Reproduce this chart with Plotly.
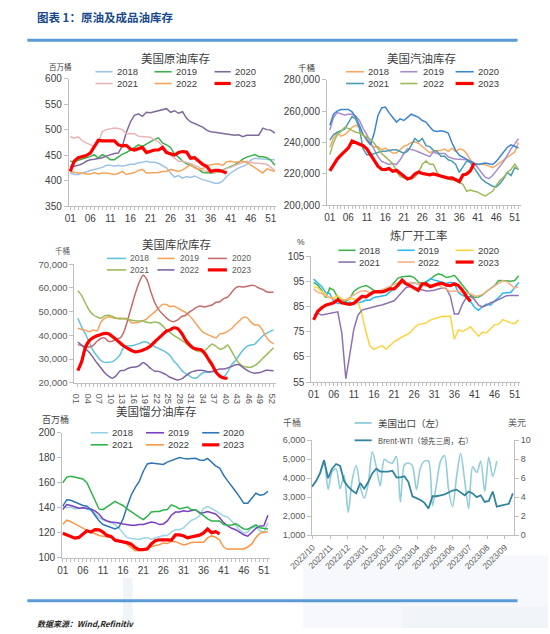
import plotly.graph_objects as go
import pandas as pd

W, H = 550, 634

weeks = list(range(1, 53))
year_names = ["2018", "2019", "2020", "2021", "2022", "2023"]

# ---------------- 美国原油库存 (百万桶) ----------------
crude_2018 = [415, 412, 412, 415, 418, 420, 422, 424, 426, 430,
              430, 428, 430, 428, 430, 432, 432, 435, 436, 438,
              436, 436, 434, 430, 425, 415, 407, 410, 405, 408,
              406, 409, 405, 402, 400, 397, 395, 395, 399, 408,
              415, 420, 425, 428, 432, 440, 444, 443, 442, 441,
              441, 441]
crude_2019 = [438, 437, 440, 443, 445, 447, 451, 444, 451, 447,
              441, 441, 446, 452, 455, 460, 465, 470, 467, 472,
              476, 481, 484, 474, 470, 465, 452, 446, 438, 433,
              430, 426, 422, 416, 415, 415, 416, 417, 421, 424,
              428, 431, 436, 442, 446, 449, 451, 447, 447, 445,
              440, 430]
crude_2020 = [428, 428, 430, 433, 438, 441, 442, 443, 445, 448,
              451, 453, 454, 468, 495, 515, 528, 531, 526, 534,
              533, 535, 538, 540, 541, 534, 537, 532, 535, 522,
              515, 512, 508, 505, 499, 496, 495, 494, 492, 492,
              490, 489, 490, 486, 489, 489, 489, 489, 503, 500,
              499, 493]
crude_2021 = [486, 483, 486, 478, 474, 470, 467, 475, 496, 500,
              502, 503, 502, 500, 492, 492, 492, 487, 486, 486,
              485, 480, 476, 468, 458, 450, 444, 438, 438, 436,
              433, 430, 427, 420, 418, 416, 415, 418, 420, 424,
              426, 430, 433, 436, 438, 436, 434, 434, 433, 432,
              426, 420]
crude_2022 = [418, 416, 415, 415, 413, 413, 416, 413, 415, 415,
              414, 412, 414, 418, 412, 414, 416, 420, 422, 415,
              415, 415, 416, 418, 418, 422, 420, 418, 421, 426,
              431, 425, 422, 424, 427, 431, 432, 433, 430, 437,
              438, 436, 437, 438, 436, 431, 425, 420, 415, 423,
              420, 418]
crude_2023 = [418, 438, 445, 447, 449, 454, 466, 479, 478, 478,
              479, 478, 470, 468, 469, 462, 460, 462, 465, 455,
              457, 460, 460, 465, 455, 452, 450, 455, 457, 456,
              444, 445, 438, 432, 428, 418, 420, 420, 418, 415]

# ---------------- 美国汽油库存 (千桶) ----------------
gas_2018 = [237000, 243000, 246000, 244000, 245000, 247000, 249700, 251000, 249500, 245000,
            241000, 238500, 237000, 237500, 235500, 236400, 235000, 233300, 233300, 235500,
            237500, 238500, 240000, 240500, 239500, 237500, 235400, 233500, 234400, 235000,
            235000, 235800, 234400, 236400, 234400, 235800, 235400, 233000, 229000, 227000,
            226200, 226300, 226000, 225000, 224000, 225500, 227200, 229000, 230300, 232000,
            234000, 240000]
gas_2019 = [248000, 256000, 259000, 258000, 257500, 258000, 258000, 257000, 254000, 249000,
            245000, 240000, 235000, 231000, 228000, 227000, 226000, 226600, 226000, 229000,
            233000, 236000, 235500, 235000, 234000, 233000, 231500, 231000, 234000, 233000,
            233000, 233000, 231000, 230000, 229600, 229500, 229000, 229000, 228000, 227000,
            224000, 221000, 218000, 217000, 219000, 222000, 225000, 228000, 232000, 236000,
            239000, 242500]
gas_2020 = [251000, 258000, 260000, 261000, 261000, 261000, 259500, 256000, 251000, 245000,
            242000, 238500, 246000, 257000, 262000, 262500, 259000, 256000, 253000, 255000,
            254000, 256000, 258000, 257000, 256000, 254000, 253000, 250000, 247500, 247000,
            247500, 247000, 246000, 240000, 235000, 232000, 230500, 229000, 228000, 226600,
            226000, 226500, 227000, 226500, 226000, 228000, 231000, 234000, 237000, 238500,
            237500, 236500]
gas_2021 = [241500, 245000, 246500, 247500, 248500, 252500, 256500, 255000, 249000, 236000,
            232300, 232300, 233000, 233300, 234400, 234400, 235000, 235400, 235400, 234400,
            233300, 234400, 238000, 242600, 240500, 242600, 238000, 237400, 235000, 234400,
            231300, 231300, 229000, 228200, 226200, 221000, 225000, 228200, 227200, 224000,
            221000, 217000, 215000, 213500, 212200, 211800, 214000, 217000, 221000, 219000,
            224000, 223000]
gas_2022 = [232300, 240000, 245000, 247000, 249700, 249000, 247700, 246500, 246000, 244600,
            243000, 242000, 239500, 236400, 233000, 231000, 229000, 226500, 222000, 218500,
            217500, 217400, 217000, 218000, 221000, 226200, 228200, 226200, 226200, 221000,
            218500, 218000, 217000, 216000, 215800, 214500, 213500, 209000, 209800, 209000,
            208500, 207000, 206000, 207500, 209000, 212800, 216000, 218000, 221000, 223000,
            226200, 222700]
gas_2023 = [222000, 226000, 229500, 232000, 234000, 236500, 241000, 240000, 238800, 238000,
            236000, 232500, 229000, 225000, 223000, 222800, 223500, 221700, 222300, 220700,
            218700, 216800, 217500, 220000, 221300, 220300, 219800, 219500, 220000, 219300,
            218700, 218200, 217400, 217500, 216500, 215200, 219400, 220000, 222000, 226800]

# ---------------- 美国库欣库存 (千桶) ----------------
cush_2018 = [47200, 43500, 40500, 37000, 33500, 31300, 29400, 28600, 28600, 28900,
             30000, 31800, 35200, 35600, 35600, 36000, 36500, 37200, 37100, 36200,
             35300, 34500, 33800, 32800, 31500, 29200, 27500, 25300, 24000, 23000,
             22000, 22100, 23500, 24400, 24400, 24600, 24500, 22800, 22600, 24400,
             27500, 29200, 31500, 33700, 35200, 35900, 36200, 37800, 39500, 40700,
             41600, 42300]
cush_2019 = [43000, 42500, 42200, 41500, 42300, 41900, 45500, 47200, 47900, 47400,
             47200, 47300, 46900, 46900, 45300, 45300, 45600, 46200, 47000, 48600,
             49800, 51500, 53000, 53000, 52200, 52300, 51600, 50600, 49800, 48400,
             46600, 44500, 42400, 40900, 40200, 39500, 38900, 40600, 40900, 41700,
             42800, 44500, 46000, 47500, 47600, 45800, 44400, 44400, 42500, 39500,
             37500, 36400]
cush_2020 = [36100, 35700, 35200, 35100, 35800, 37500, 38700, 38900, 37500, 37500,
             38600, 38900, 41500, 46500, 52300, 57800, 62500, 65400, 63500, 58500,
             54000, 51000, 49100, 47500, 46200, 45800, 46500, 47900, 48400, 49800,
             50800, 51900, 52400, 52000, 52400, 52800, 54000, 54200, 55500, 56100,
             58000, 59900, 60600, 60400, 60600, 61100, 61000, 60100, 59500, 58500,
             58200, 58200]
cush_2021 = [58900, 56800, 53500, 50500, 48700, 47800, 47200, 48300, 48500, 48000,
             47200, 46900, 47200, 46900, 46400, 46200, 46100, 46100, 45500, 45200,
             45600, 45300, 44200, 42500, 41200, 40000, 39000, 38000, 36800, 35600,
             34500, 33500, 33100, 33500, 35000, 36400, 35400, 34100, 34600, 35900,
             33500, 30600, 28200, 27000, 26600, 26500, 27200, 28400, 30000, 31600,
             33200, 34800]
cush_2022 = [37200, 35900, 34300, 32800, 30600, 28300, 26300, 24200, 22800, 21900,
             23000, 25000, 25200, 26000, 26500, 26600, 27200, 28500, 27500, 26000,
             24900, 24800, 24200, 23400, 22300, 21700, 21200, 21600, 22800, 24000,
             24800, 25200, 25300, 25100, 24600, 24800, 25300, 25800, 25800, 26200,
             26800, 27500, 27600, 26500, 25300, 24500, 24000, 24200, 24600, 25300,
             25200, 25100]
cush_2023 = [25100, 29000, 35000, 37800, 39000, 39800, 40400, 40800, 40700, 39500,
             38200, 36800, 35500, 34500, 33600, 33000, 33300, 33800, 34500, 35600,
             37200, 38700, 40200, 41700, 42300, 43200, 42800, 41000, 38200, 36200,
             34700, 34200, 34000, 32500, 30000, 27500, 24500, 22800, 22000, 21900]

# ---------------- 炼厂开工率 (%) ----------------
ref_2018 = [94.6, 93.5, 91.5, 88.5, 92.3, 91.5, 88.5, 87.5, 87, 88.2,
            91, 92.2, 92.9, 93.3, 92.5, 91.4, 90.9, 91.4, 92, 92.6,
            94.5, 96.3, 96.8, 97.1, 97.1, 96.5, 94.8, 94.1, 94.8, 95.8,
            97.2, 98, 97.5, 96.5, 96.8, 97.4, 95.5, 93.3, 91.5, 89.5,
            88.6, 88.8, 89.6, 91, 92.3, 93.3, 95.3, 95.4, 95.2, 95,
            95.3, 97.2]
ref_2019 = [95.9, 94.6, 93, 90.5, 90.2, 87, 86.2, 86.2, 86.4, 86.7,
            86.3, 86.4, 86.8, 87.6, 87.5, 88.6, 88.8, 89.2, 89.5, 90.8,
            92.5, 93.8, 94.2, 94, 94.5, 94.3, 93.8, 93.8, 94.6, 96,
            95.5, 95, 94.8, 94.2, 94.6, 94.2, 90.5, 89.4, 88.8, 87,
            84.7, 83.5, 85, 86, 85.5, 87.3, 88.5, 90.3, 90.5, 90.6,
            92.5, 94.6]
ref_2020 = [92.9, 92.4, 91, 89.8, 88.5, 88.5, 89.3, 88, 87.6, 88.1,
            88.1, 87, 82, 75, 69.3, 68, 68.6, 69.5, 68, 69.4,
            71, 72, 72.8, 73.6, 74.6, 76.5, 77.8, 78.2, 78.5, 79.6,
            80.2, 80.8, 81.1, 81, 81.2, 72, 75.8, 75.1, 75.8, 77,
            75, 73.2, 74.8, 74.6, 76.2, 77.8, 78, 79.8, 79.2, 78.5,
            78.2, 79.7]
ref_2021 = [81.6, 82.3, 81.6, 81.9, 82.3, 82.7, 82.9, 74.5, 56.3, 66,
            76, 81.5, 83.6, 84, 84.5, 85, 85.3, 85.6, 86.2, 86.7,
            87.3, 89, 91, 92.6, 92.9, 92.5, 91.8, 91.4, 91.2, 91.3,
            91.5, 92, 92.4, 92.2, 89, 82, 82, 86, 88.6, 89,
            87.8, 85.5, 84.8, 85.5, 86.5, 87, 87.8, 88.6, 89.3, 89.4,
            89.4, 89.4]
ref_2022 = [92, 90.7, 90.2, 89.2, 88.6, 88, 87.5, 87.7, 87.7, 88.6,
            89.6, 90.5, 91.2, 91.3, 90.3, 91.2, 91, 91.6, 92.3, 93,
            93.8, 94.5, 94.3, 94.2, 94.5, 94.2, 94, 94.2, 93, 93.2,
            93.8, 93.5, 92.7, 92, 91, 91.2, 91, 90.7, 90.5, 90.1,
            89.2, 89.3, 89.8, 91, 92.2, 93.2, 94.2, 95.2, 95, 93.5,
            92.3, 92.9]
ref_2023 = [79.7, 83, 84.5, 85.5, 86, 86.5, 87.7, 86.5, 86.1, 85.9,
            86.3, 87.5, 89, 88.8, 89.8, 90.8, 90.9, 90.8, 91.3, 92,
            92, 93.5, 95.5, 94, 93.3, 92.2, 91.4, 94, 94, 92.9,
            93.5, 94, 94.2, 93.5, 93.3, 94, 93.3, 91.5, 89, 87]

# ---------------- 美国馏分油库存 (百万桶) ----------------
dist_2018 = [141.2, 140, 140.5, 139, 139.5, 139.9, 138.8, 138, 135.5, 132,
             130.2, 129, 128.2, 126.5, 123.4, 119.5, 116, 115.3, 114.7, 114.5,
             115.5, 116.2, 114.8, 115.5, 116.8, 117.7, 117.7, 120.5, 122.6, 122.4,
             123.8, 127, 130, 131, 133.5, 139.5, 141, 139.5, 137.5, 135.5,
             133.5, 132.5, 129.5, 126, 122, 119.8, 120.5, 124, 125, 121.5,
             120.3, 128]
dist_2019 = [138.6, 142.5, 141.8, 140.8, 139.6, 139.9, 139.3, 139, 137.5, 135,
             131, 129.4, 128.6, 128.5, 127.8, 127, 126.4, 126, 126, 126.6,
             126.5, 127.5, 128.6, 128, 126.5, 127, 129.4, 134, 136.5, 136.5,
             137.5, 137, 138, 138.4, 135.8, 136, 137, 136, 135, 132,
             128, 125.5, 123.5, 122.4, 120.3, 118.3, 117.2, 120, 123.5, 125.4,
             125.5, 133.9]
dist_2020 = [141.2, 146.4, 145.9, 144.5, 143.3, 141.8, 141.2, 138.5, 134, 129.5,
             126.5, 125.5, 124, 123, 124.5, 131, 141, 150, 156, 161,
             169, 175, 175.7, 175.3, 175.2, 174.6, 176.5, 177.8, 179, 180.2,
             179.5, 179, 179.3, 179.6, 178.2, 177.8, 179.5, 176.5, 173.5, 171.8,
             166, 161.5, 157.5, 153, 148.5, 143.5, 143.5, 147.5, 151.6, 150,
             150.5, 153]
dist_2021 = [160, 164.5, 165.2, 164.5, 164.2, 163, 160, 153, 146, 139,
             138.4, 140.5, 143, 145, 143.3, 141.8, 139, 136.5, 134.6, 132.5,
             130.5, 133, 136.6, 137, 137, 138.2, 138.6, 142.3, 141, 139,
             139.7, 140.6, 138.3, 138.4, 136.3, 133.8, 131, 129.4, 129.4, 129.4,
             126.5, 126, 126.2, 127.2, 125, 123, 122.8, 124.5, 126.2, 124,
             123.4, 122.9]
dist_2022 = [126.8, 130, 128.8, 127, 125.2, 123.4, 121.8, 120.5, 118.8, 117.7,
             117.2, 116.5, 116.4, 114.5, 113.3, 112.3, 110.6, 108, 105.6, 105.8,
             106.9, 107.6, 109.3, 109.8, 110.3, 111.8, 111.3, 113.2, 112.8, 111.5,
             110.2, 111, 112.2, 112.4, 112.4, 112.4, 115.8, 117.4, 116.4, 114,
             108.5, 106.7, 107, 107.2, 106.8, 107, 108.5, 111, 116, 119.5,
             120.3, 120.8]
dist_2023 = [119.5, 118.2, 116.8, 115.6, 116.2, 118.5, 121.5, 120.5, 122.4, 122.2,
             120.4, 117.8, 117, 114, 113, 112.6, 112, 110.8, 108, 106.4,
             106.4, 107, 111, 113.5, 114.3, 114.5, 114.3, 114, 118.2, 118.2,
             117.5, 115.8, 116.4, 117.5, 118, 119.8, 122.9, 120, 120.8, 119]

# ---------------- 美国出口 / Brent-WTI ----------------
weekly_start = "2022-09-30"
exports = [3550, 3850, 4300, 4950, 3420, 4350, 4500, 3450, 4150, 2200,
           3900, 4670, 3550, 2950, 3700, 5400, 4600, 3600, 5000, 4850,
           4800, 5150, 2750, 4700, 4800, 4650, 3400, 4550, 4900, 4900,
           2550, 3700, 4900, 5200, 3400, 2500, 4100, 5300, 3900, 2400,
           4600, 4300, 4900, 3300, 5100, 4100, 4900]
brent_wti = [5.1, 5.7, 6.5, 7.9, 6.0, 7.0, 7.5, 7.3, 5.7, 5.1,
             4.7, 4.4, 5.5, 4.9, 5.6, 6.5, 7.0, 6.7, 6.7, 6.7,
             6.8, 6.1, 6.1, 6.2, 5.6, 4.1, 3.9, 3.7, 3.4, 2.8,
             4.1, 4.1, 4.2, 4.3, 4.5, 4.7, 4.8, 4.5, 4.2, 4.6,
             4.4, 4.0, 4.2, 3.5, 3.6, 4.6, 3.0, 3.1, 3.2, 3.3,
             4.4]
month_ticks = ["2022-10-01", "2022-11-01", "2022-12-01", "2023-01-01", "2023-02-01",
               "2023-03-01", "2023-04-01", "2023-05-01", "2023-06-01", "2023-07-01",
               "2023-08-01", "2023-09-01"]
month_labels = ["2022/10", "2022/11", "2022/12", "2023/01", "2023/02", "2023/03",
                "2023/04", "2023/05", "2023/06", "2023/07", "2023/08", "2023/09"]

export_dates = pd.date_range(weekly_start, periods=len(exports), freq="7D")
spread_dates = pd.date_range(weekly_start, periods=len(brent_wti), freq="7D")

# ---------------- styling ----------------
CJK = "Noto Sans CJK SC"
NUM = "Liberation Sans, Arial, sans-serif"
AX = "#BFBFBF"
TXT = "#404040"

col_crude = ["#9DC3E6", "#3DB04B", "#7F6A9A", "#E9B5B5", "#F5A45C", "#FF0000"]
col_gas = ["#F6A864", "#A88BD0", "#3A86D1", "#4A9BB0", "#9BBB59", "#FF0000"]
col_cush = ["#63C3DC", "#F7A35C", "#C46B6B", "#9BBB59", "#8064A2", "#FF0000"]
col_ref = ["#3CB44B", "#2DB7F0", "#FFD23F", "#8E72B0", "#F4B183", "#FF0000"]
col_dist = ["#9BD3E6", "#7B3FBF", "#2E75B6", "#2DB34A", "#F79646", "#FF0000"]
col_exp = "#92CDDC"
col_spread = "#31859C"


def px_x(x):
    return x / W


def px_y(y):
    return 1 - y / H


def xdom(a, b):
    return [px_x(a), px_x(b)]


def ydom(top, bottom):
    return [px_y(bottom), px_y(top)]


def wrange(d0, d1, p_first, p_last, n_first=1, n_last=52):
    s = (p_last - p_first) / (n_last - n_first)
    return [n_first - (p_first - d0) / s, n_last + (d1 - p_last) / s]


fig = go.Figure()


def add_years(series, colors, xa, ya, shape="linear"):
    for name, vals, col in zip(year_names, series, colors):
        fig.add_trace(go.Scatter(
            x=weeks[:len(vals)], y=vals, mode="lines", name=name,
            line=dict(color=col, width=3.2 if name == "2023" else 1.5, shape=shape, smoothing=0.6),
            xaxis=xa, yaxis=ya, showlegend=False, hoverinfo="skip"))


add_years([crude_2018, crude_2019, crude_2020, crude_2021, crude_2022, crude_2023], col_crude, "x", "y")
add_years([gas_2018, gas_2019, gas_2020, gas_2021, gas_2022, gas_2023], col_gas, "x2", "y2")
add_years([cush_2018, cush_2019, cush_2020, cush_2021, cush_2022, cush_2023], col_cush, "x3", "y3", "spline")
add_years([ref_2018, ref_2019, ref_2020, ref_2021, ref_2022, ref_2023], col_ref, "x4", "y4")
add_years([dist_2018, dist_2019, dist_2020, dist_2021, dist_2022, dist_2023], col_dist, "x5", "y5")

fig.add_trace(go.Scatter(x=export_dates, y=exports, mode="lines", name="美国出口（左）",
                         line=dict(color=col_exp, width=1.6, shape="spline", smoothing=0.8),
                         xaxis="x6", yaxis="y6", showlegend=False, hoverinfo="skip"))
fig.add_trace(go.Scatter(x=spread_dates, y=brent_wti, mode="lines", name="Brent-WTI（领先三周，右）",
                         line=dict(color=col_spread, width=1.8),
                         xaxis="x6", yaxis="y7", showlegend=False, hoverinfo="skip"))


def xaxis_cfg(d0, d1, rng, tickvals, ticktext, anchor, size=10, color=TXT):
    return dict(domain=xdom(d0, d1), range=rng, anchor=anchor,
                tickmode="array", tickvals=tickvals, ticktext=ticktext,
                showline=True, linecolor=AX, linewidth=1, ticks="outside", ticklen=3,
                tickcolor=AX, showgrid=False, zeroline=False,
                minor=dict(ticks="outside", ticklen=3, tick0=1, dtick=1, tickcolor=AX, showgrid=False),
                tickfont=dict(family=NUM, size=size, color=color))


def yaxis_cfg(top, bottom, rng, dtick, anchor, fmt="", size=10, color=TXT):
    return dict(domain=ydom(top, bottom), range=rng, anchor=anchor, dtick=dtick, tick0=rng[0],
                showline=True, linecolor=AX, linewidth=1, ticks="outside", ticklen=4,
                tickcolor=AX, showgrid=False, zeroline=False, tickformat=fmt,
                tickfont=dict(family=NUM, size=size, color=color))


tv5 = list(range(1, 53, 5))
tt5 = ["%02d" % v for v in tv5]
tv3 = list(range(1, 53, 3))
tt3 = ["%02d" % v for v in tv3]

layout = dict(
    xaxis=xaxis_cfg(47, 265, wrange(47, 265, 48.5, 263.3), tv5, tt5, "y"),
    yaxis=yaxis_cfg(74, 204, [350, 600], 50, "x"),
    xaxis2=xaxis_cfg(318, 522, wrange(318, 522, 321, 519), tv5, tt5, "y2"),
    yaxis2=yaxis_cfg(75, 203.3, [200000, 280000], 20000, "x2", ",d"),
    xaxis3=xaxis_cfg(53, 264, wrange(53, 264, 56.5, 262), tv3, tt3, "y3", 9.5, "#595959"),
    yaxis3=yaxis_cfg(263.3, 384, [20000, 70000], 10000, "x3", ",d", 9.5, "#595959"),
    xaxis4=xaxis_cfg(301.7, 521, wrange(301.7, 521, 304, 519.3), tv5, tt5, "y4"),
    yaxis4=yaxis_cfg(255, 383.3, [55, 105], 10, "x4"),
    xaxis5=xaxis_cfg(40, 258, wrange(40, 258, 40.7, 256), tv5, tt5, "y5"),
    yaxis5=yaxis_cfg(435, 562.3, [100, 200], 20, "x5"),
    xaxis6=dict(domain=xdom(302.3, 514.3), range=["2022-09-30", "2023-09-17"], anchor="y6",
                type="date", tickmode="array", tickvals=month_ticks, ticktext=month_labels,
                tickangle=-45, showline=True, linecolor=AX, linewidth=1, ticks="outside",
                ticklen=3, tickcolor=AX, showgrid=False, zeroline=False,
                tickfont=dict(family=NUM, size=8.5, color="#595959")),
    yaxis6=yaxis_cfg(442.7, 539.3, [1000, 6000], 1000, "x6", ",d", 9, "#595959"),
    yaxis7=dict(domain=ydom(442.7, 539.3), range=[0, 10], dtick=2, overlaying="y6",
                side="right", anchor="x6", showline=True, linecolor=AX, ticks="outside",
                ticklen=4, tickcolor=AX, showgrid=False, zeroline=False,
                tickfont=dict(family=NUM, size=9, color="#595959")),
)

shapes = []
annotations = []

# faint background decorations
for (x0, y0, x1, y1, c) in [(293, 560, 550, 634, "#F6F8FB"), (104, 583, 114, 634, "#F1F5F9"),
                            (397, 612, 550, 634, "#F1F5F9")]:
    shapes.append(dict(type="rect", xref="paper", yref="paper", x0=px_x(x0), x1=px_x(x1),
                       y0=px_y(y1), y1=px_y(y0), fillcolor=c, line=dict(width=0), layer="below"))

# header / footer rules
for yt, yb in [(33.3, 36.4), (604.8, 607.8)]:
    shapes.append(dict(type="rect", xref="paper", yref="paper", x0=px_x(3.5), x1=px_x(518),
                       y0=px_y(yb), y1=px_y(yt), fillcolor="#5B9BD5", line=dict(width=0)))


def text(x, y, s, size, color=TXT, family=CJK, anchor="left", bold=False, italic=False):
    if bold:
        s = "<b>" + s + "</b>"
    if italic:
        s = "<i>" + s + "</i>"
    annotations.append(dict(x=px_x(x), y=px_y(y), xref="paper", yref="paper", text=s,
                            showarrow=False, xanchor=anchor, yanchor="middle",
                            font=dict(family=family, size=size, color=color),
                            borderpad=0))


def legend(rows, cols, colors, labels, size, tcolor):
    i = 0
    for y in rows:
        for (l0, l1, tx) in cols:
            w = 3.2 if labels[i] == "2023" else 1.6
            shapes.append(dict(type="line", xref="paper", yref="paper", x0=px_x(l0), x1=px_x(l1),
                               y0=px_y(y), y1=px_y(y), line=dict(color=colors[i], width=w)))
            text(tx, y, labels[i], size, tcolor, NUM)
            i += 1


text(13, 11, "图表 1：原油及成品油库存", 11.5, "#1A4A8A", CJK, bold=True)
text(13, 629, "数据来源：Wind,Refinitiv", 8, "#262626", CJK, bold=True, italic=True)

# panel titles & units
text(159, 53, "美国原油库存", 11.5, TXT, CJK, "center")
text(25, 62, "百万桶", 7.5, TXT)
legend([67, 79], [(75, 93, 97), (137, 155, 158), (200, 217, 220)], col_crude, year_names, 9.5, TXT)

text(417, 53, "美国汽油库存", 11.5, TXT, CJK, "center")
text(287, 62, "千桶", 8.5, TXT)
legend([67, 79], [(338, 357, 360), (395, 413, 418), (453, 472, 475)], col_gas, year_names, 9.5, TXT)

text(160, 243, "美国库欣库存", 11.5, TXT, CJK, "center")
text(32, 249, "千桶", 7.5, "#595959")
legend([257.3, 269], [(87, 107, 110), (140, 158, 163), (193, 213, 217)], col_cush, year_names, 8.5, "#595959")

text(415, 233, "炼厂开工率", 11.5, TXT, CJK, "center")
text(285, 241, "%", 8.5, TXT, NUM)
legend([249, 261], [(330, 348, 351), (392, 410, 413), (453, 472, 475)], col_ref, year_names, 9.5, TXT)

text(139, 413, "美国馏分油库存", 11.5, TXT, CJK, "center")
text(18, 421, "百万桶", 9, TXT)
legend([435, 447.3], [(70, 88, 91), (128, 147, 150), (187, 205, 208)], col_dist, year_names, 9.5, TXT)

text(271, 425, "千桶", 9, "#595959")
text(507, 425, "美元", 9, "#595959")
shapes.append(dict(type="line", xref="paper", yref="paper", x0=px_x(347), x1=px_x(365),
                   y0=px_y(425), y1=px_y(425), line=dict(color=col_exp, width=1.8)))
text(370, 425, "美国出口（左）", 9.5, TXT)
shapes.append(dict(type="line", xref="paper", yref="paper", x0=px_x(347), x1=px_x(365),
                   y0=px_y(442.7), y1=px_y(442.7), line=dict(color=col_spread, width=1.8)))
text(370, 442.7, "Brent-WTI（领先三周，右）", 7.5, TXT)

fig.update_layout(**layout)
fig.update_layout(width=W, height=H, margin=dict(l=0, r=0, t=0, b=0),
                  paper_bgcolor="white", plot_bgcolor="rgba(0,0,0,0)",
                  shapes=shapes, annotations=annotations, showlegend=False)

fig.write_html("out.html")
